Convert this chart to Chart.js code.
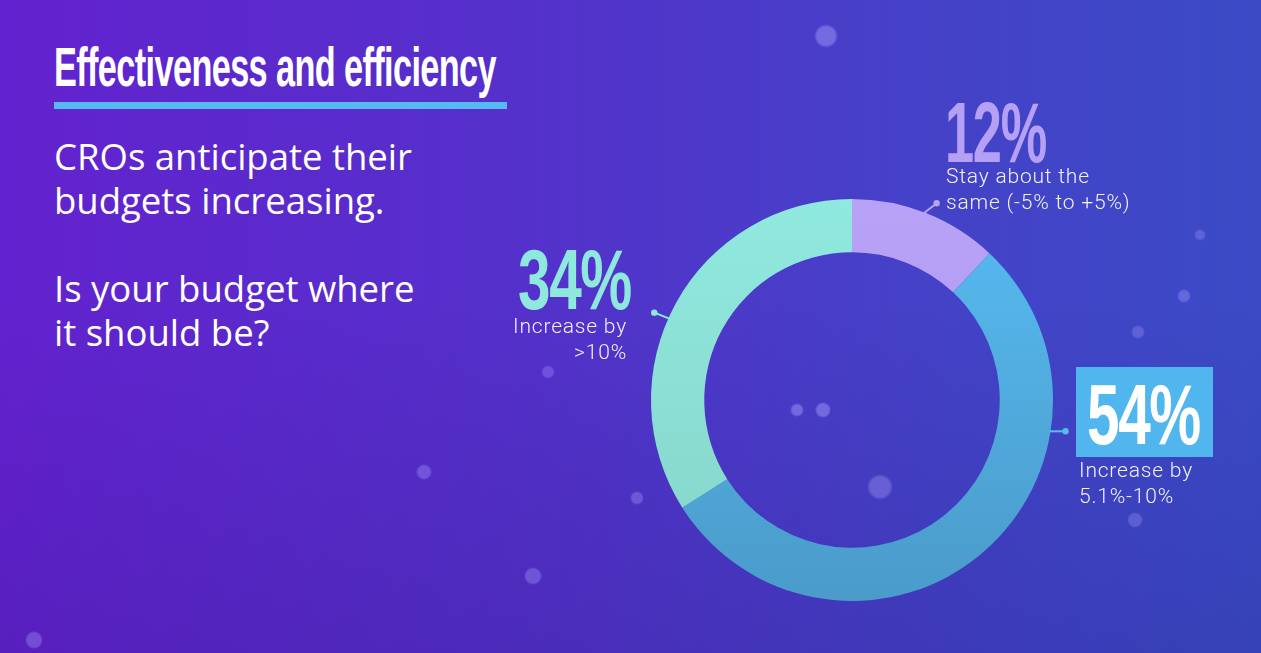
<!DOCTYPE html>
<html>
<head>
<meta charset="utf-8">
<script src="https://cdn.jsdelivr.net/npm/chart.js@4"></script>
<style>
  html, body { margin: 0; padding: 0; }
  body {
    width: 1261px; height: 653px; overflow: hidden; position: relative;
    background:
      radial-gradient(circle at 826px 36px, rgba(170,160,255,0.45) 0 9px, rgba(170,160,255,0) 12px),
      radial-gradient(circle at 880px 487px, rgba(170,160,255,0.35) 0 10px, rgba(170,160,255,0) 13px),
      radial-gradient(circle at 797px 410px, rgba(170,160,255,0.45) 0 5px, rgba(170,160,255,0) 7px),
      radial-gradient(circle at 823px 410px, rgba(170,160,255,0.45) 0 6px, rgba(170,160,255,0) 8px),
      radial-gradient(circle at 424px 472px, rgba(170,160,255,0.35) 0 6px, rgba(170,160,255,0) 8px),
      radial-gradient(circle at 533px 576px, rgba(170,160,255,0.35) 0 7px, rgba(170,160,255,0) 9px),
      radial-gradient(circle at 637px 498px, rgba(170,160,255,0.35) 0 5px, rgba(170,160,255,0) 7px),
      radial-gradient(circle at 1184px 296px, rgba(170,160,255,0.35) 0 5px, rgba(170,160,255,0) 7px),
      radial-gradient(circle at 1135px 520px, rgba(170,160,255,0.3) 0 6px, rgba(170,160,255,0) 8px),
      radial-gradient(circle at 548px 372px, rgba(170,160,255,0.3) 0 5px, rgba(170,160,255,0) 7px),
      radial-gradient(circle at 34px 640px, rgba(170,160,255,0.35) 0 7px, rgba(170,160,255,0) 9px),
      radial-gradient(circle at 1138px 332px, rgba(170,160,255,0.3) 0 5px, rgba(170,160,255,0) 7px),
      radial-gradient(circle at 1200px 235px, rgba(170,160,255,0.3) 0 4px, rgba(170,160,255,0) 6px),
      linear-gradient(180deg, rgba(20,10,90,0) 45%, rgba(20,10,90,0.14) 100%),
      linear-gradient(90deg, #6322cf 0%, #5530cb 40%, #4640c8 70%, #3b4bc6 100%);
    font-family: "Open Sans", sans-serif;
    color: #fff;
  }
  .abs { position: absolute; white-space: nowrap; }
  #title {
    left: 54px; top: 37px; font-family: "Liberation Sans Narrow", sans-serif;
    font-weight: bold; font-size: 56px; line-height: 60px; transform-origin: 0 0;
    letter-spacing: -1px;
  }
  #rule { left: 54px; top: 102px; width: 453px; height: 7px; background: #55b9f2; }
  #intro { left: 54px; top: 134px; font-size: 36.5px; line-height: 44px; }
  .pct {
    font-family: "Liberation Sans Narrow", sans-serif; font-weight: bold;
    font-size: 86px; line-height: 86px; transform-origin: 0 0; letter-spacing: -2px;
  }
  .cap {
    font-family: Roboto, sans-serif; font-weight: 300; font-size: 21px; line-height: 26px;
    letter-spacing: 0.8px; color: #f2f0ff;
  }
  #box54 { left: 1076px; top: 367px; width: 137px; height: 90px; background: #52b6ee; }
  #chartBox { position: absolute; left: 612px; top: 160px; width: 480px; height: 480px; }
</style>
</head>
<body>
<div id="title" class="abs">Effectiveness and efficiency</div>
<div id="rule" class="abs"></div>
<div id="intro" class="abs">CROs anticipate their<br>budgets increasing.<br><br>Is your budget where<br>it should be?</div>

<div id="box54" class="abs"></div>
<div id="chartBox"><canvas id="donut"></canvas></div>

<div id="pct0" class="abs pct" style="left:945px; top:89px; color:#b6a0f6;"></div>
<div id="cap0" class="abs cap" style="left:946px; top:163px;"></div>
<div id="pct1" class="abs pct" style="left:1087px; top:371px; color:#ffffff;"></div>
<div id="cap1" class="abs cap" style="left:1079px; top:457px;"></div>
<div id="pct2" class="abs pct" style="left:518px; top:236px; color:#8fe8de;"></div>
<div id="cap2" class="abs cap" style="right:634px; top:313px; text-align:right;"></div>

<script>
// survey answers, clockwise from 12 o'clock
const answers = ['Stay about the', 'Increase by', 'Increase by'];
const answerDetail = ['same (-5% to +5%)', '5.1%-10%', '>10%'];
const shares = [12, 54, 34];

const topColors = ['#b8a2f7', '#57bbf1', '#90e9df'];
const bottomColors = ['#ae98ee', '#4a9bca', '#86d4c8'];

// where each leader line leaves the ring (degrees from top) and its offset
const leaders = [
    { angle: 21, dx: 13, dy: -10 },
    { angle: 99, dx: 16, dy: 0 },
    { angle: 294, dx: -15, dy: -6 }
];

// fill the labels from the data
for (let i = 0; i < shares.length; i++) {
    document.querySelector('#pct' + i).textContent = shares[i] + '%';
    document.querySelector('#cap' + i).innerHTML = answers[i] + '<br>' + answerDetail[i];
}

// squeeze condensed text to the width it has in the picture
function fitWidth(el, target) {
    let w = el.getBoundingClientRect().width;
    el.style.transform = 'scaleX(' + (target / w) + ')';
}
fitWidth(document.querySelector('#title'), 442);
fitWidth(document.querySelector('#pct0'), 101);
fitWidth(document.querySelector('#pct1'), 113);
fitWidth(document.querySelector('#pct2'), 113);

const leaderPlugin = {
    id: 'leaders',
    afterDatasetsDraw(chart) {
        const ctx = chart.ctx;
        const arcs = chart.getDatasetMeta(0).data;
        arcs.forEach((arc, i) => {
            const lead = leaders[i];
            const a = (lead.angle - 90) * Math.PI / 180;
            const x0 = arc.x + Math.cos(a) * (arc.outerRadius - 1);
            const y0 = arc.y + Math.sin(a) * (arc.outerRadius - 1);
            ctx.save();
            ctx.strokeStyle = topColors[i];
            ctx.fillStyle = topColors[i];
            ctx.lineWidth = 2;
            ctx.beginPath();
            ctx.moveTo(x0, y0);
            ctx.lineTo(x0 + lead.dx, y0 + lead.dy);
            ctx.stroke();
            ctx.beginPath();
            ctx.arc(x0 + lead.dx, y0 + lead.dy, 3.2, 0, Math.PI * 2);
            ctx.fill();
            ctx.restore();
        });
    }
};

function sliceFill(context) {
    const chart = context.chart;
    const area = chart.chartArea;
    if (!area) return topColors[context.dataIndex];
    const g = chart.ctx.createLinearGradient(0, area.top, 0, area.bottom);
    g.addColorStop(0, topColors[context.dataIndex]);
    g.addColorStop(1, bottomColors[context.dataIndex]);
    return g;
}

let donut = new Chart(document.querySelector('#donut').getContext('2d'), {
    type: 'doughnut',
    data: {
        labels: answers.map((a, i) => a + ' ' + answerDetail[i]),
        datasets: [{
            data: shares,
            backgroundColor: sliceFill,
            borderWidth: 0,
            hoverOffset: 0
        }]
    },
    options: {
        responsive: true,
        maintainAspectRatio: false,
        animation: false,
        cutout: '73.5%',
        layout: { padding: 39 },
        plugins: {
            legend: { display: false },
            tooltip: { enabled: false }
        }
    },
    plugins: [leaderPlugin]
});
</script>
</body>
</html>
